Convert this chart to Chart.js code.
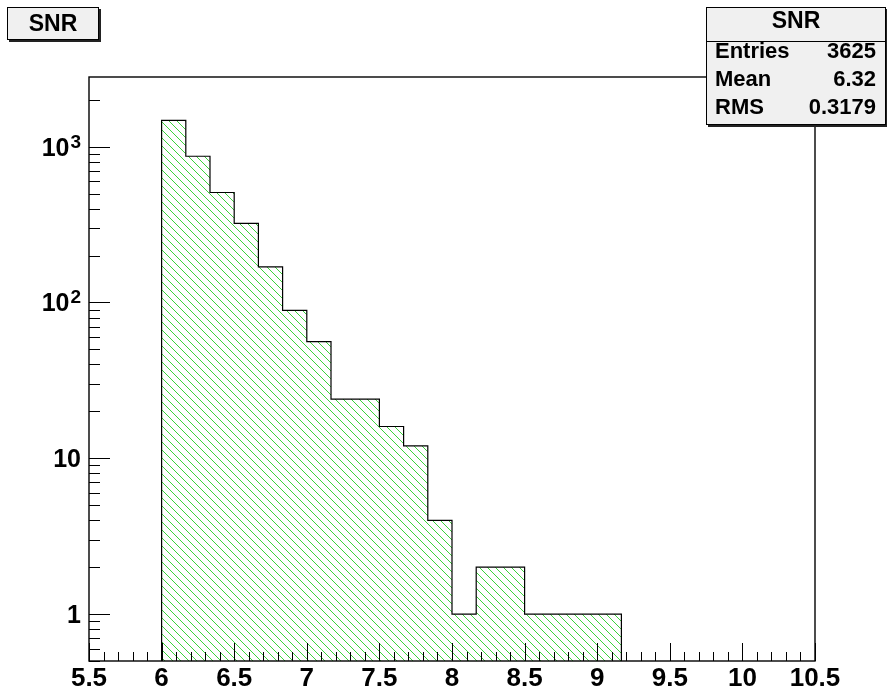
<!DOCTYPE html>
<html>
<head>
<meta charset="utf-8">
<script src="https://cdn.jsdelivr.net/npm/chart.js@4.4.1/dist/chart.umd.min.js"></script>
<style>
    body { margin: 0; background: #fff; }
    #wrap { position: relative; width: 887px; height: 697px; }
    .box {
        position: absolute;
        background: #f0f0f0;
        border: 1px solid #000;
        box-shadow: 2px 2px 0 #222;
        font-family: 'Liberation Sans', Arial, sans-serif;
        font-weight: bold;
        color: #000;
        box-sizing: border-box;
    }
    #title-box { left: 7px; top: 7px; width: 92px; height: 33px; font-size: 23px; line-height: 31px; text-align: center; }
    #stats-box { left: 706px; top: 7px; width: 180px; height: 118px; font-size: 22px; }
    #stats-box .head { position: absolute; left: 0; right: 0; top: 0; height: 33px; line-height: 25px; text-align: center; border-bottom: 1px solid #000; font-size: 23px; }
    #stats-box .row { position: absolute; left: 8px; right: 9px; height: 28px; line-height: 28px; display: flex; justify-content: space-between; }
</style>
</head>
<body>
<div id="wrap">
    <canvas id="hist" width="887" height="697"></canvas>
    <div class="box" id="title-box"></div>
    <div class="box" id="stats-box"></div>
</div>
<script>
// ─── Data ─────────────────────────────────────────────

const histName   = 'SNR';
const binEdges   = [6.0, 6.1667, 6.3333, 6.5, 6.6667, 6.8333, 7.0, 7.1667, 7.3333, 7.5,
                    7.6667, 7.8333, 8.0, 8.1667, 8.3333, 8.5, 8.6667, 8.8333, 9.0, 9.1667];
const binCounts  = [1476, 868, 508, 322, 169, 89, 56, 24, 24, 16, 12, 4, 1, 2, 2, 1, 1, 1, 1];

const xRange      = [5.5, 10.5];
const xTickValues = [5.5, 6, 6.5, 7, 7.5, 8, 8.5, 9, 9.5, 10, 10.5];
const xTickLabels = ['5.5', '6', '6.5', '7', '7.5', '8', '8.5', '9', '9.5', '10', '10.5'];

const yRange      = [0.5, 2800];
const yTickValues = [1, 10, 100, 1000];
const yTickBase   = ['1', '10', '10', '10'];
const yTickExp    = ['', '', '2', '3'];

const statLabels = ['Entries', 'Mean', 'RMS'];
const statValues = ['3625', '6.32', '0.3179'];

// ─── Boxes ────────────────────────────────────────────

document.getElementById('title-box').textContent = histName;
const stats = document.getElementById('stats-box');
stats.innerHTML = `<div class="head">${histName}</div>` +
    statLabels.map((l, i) =>
        `<div class="row" style="top:${29 + i * 28}px"><span>${l}</span><span>${statValues[i]}</span></div>`
    ).join('');

// ─── Helpers ──────────────────────────────────────────

const FONT = "'Liberation Sans', Arial, sans-serif";

// ROOT-like "\\\" hatch, one-pixel diagonal every 8 px
function _hatch() {
    const c = document.createElement('canvas');
    c.width = 8; c.height = 8;
    const g = c.getContext('2d');
    g.fillStyle = 'rgb(60,210,60)';
    for (let i = 0; i < 8; i++) g.fillRect(i, i, 1, 1);
    return g.createPattern(c, 'repeat');
}

const outline = [{ x: binEdges[0], y: yRange[0] }];
binCounts.forEach((c, i) => outline.push({ x: binEdges[i], y: c }));
outline.push({ x: binEdges[binEdges.length - 1], y: yRange[0] });

// inward ticks, frame and y labels with exponents, ROOT style
const frameTicks = {
    id: 'frameTicks',
    afterDatasetsDraw(chart) {
        const { ctx, chartArea: a, scales: { x, y } } = chart;
        ctx.save();
        ctx.strokeStyle = '#000';
        ctx.lineWidth = 1;
        ctx.beginPath();
        for (let v = xRange[0]; v <= xRange[1] + 1e-9; v += 0.1) {
            const px = Math.round(x.getPixelForValue(v)) + 0.5;
            const major = Math.abs(v * 2 - Math.round(v * 2)) < 1e-6;
            ctx.moveTo(px, a.bottom);
            ctx.lineTo(px, a.bottom - (major ? 18 : 9));
        }
        for (let d = 0.1; d <= 1000; d *= 10) {
            for (let k = 1; k <= 9; k++) {
                const v = k * d;
                if (v < yRange[0] || v > yRange[1]) continue;
                const py = Math.round(y.getPixelForValue(v)) + 0.5;
                ctx.moveTo(a.left, py);
                ctx.lineTo(a.left + (k === 1 ? 21 : 11), py);
            }
        }
        ctx.stroke();
        ctx.lineWidth = 1.4;
        ctx.strokeRect(a.left, a.top, a.right - a.left, a.bottom - a.top);

        ctx.fillStyle = '#000';
        ctx.textBaseline = 'alphabetic';
        ctx.textAlign = 'right';
        const right = a.left - 8;
        yTickValues.forEach((v, i) => {
            const py = y.getPixelForValue(v);
            let xr = right;
            if (yTickExp[i]) {
                ctx.font = `bold 19px ${FONT}`;
                ctx.fillText(yTickExp[i], xr, py + 1);
                xr -= ctx.measureText(yTickExp[i]).width + 1;
            }
            ctx.font = `bold 25px ${FONT}`;
            ctx.fillText(yTickBase[i], xr, py + 9);
        });
        ctx.restore();
    },
};

// ─── Chart ────────────────────────────────────────────

new Chart(document.getElementById('hist').getContext('2d'), {
    type: 'line',
    data: {
        datasets: [{
            data: outline,
            stepped: 'before',
            fill: 'start',
            backgroundColor: _hatch(),
            borderColor: '#000',
            borderWidth: 1.2,
            pointRadius: 0,
        }],
    },
    options: {
        responsive: false,
        animation: false,
        layout: { padding: { top: 77, right: 72, left: 0, bottom: 0 } },
        plugins: { legend: { display: false }, tooltip: { enabled: false } },
        scales: {
            x: {
                type: 'linear',
                min: xRange[0],
                max: xRange[1],
                grid: { display: false, drawTicks: false },
                border: { display: false },
                afterBuildTicks: s => { s.ticks = xTickValues.map(v => ({ value: v })); },
                afterFit: s => { s.height = 36; },
                ticks: {
                    color: '#000',
                    font: { family: FONT, size: 26, weight: 'bold' },
                    padding: 2,
                    maxRotation: 0,
                    autoSkip: false,
                    callback: v => xTickLabels[xTickValues.indexOf(v)] ?? '',
                },
            },
            y: {
                type: 'logarithmic',
                min: yRange[0],
                max: yRange[1],
                grid: { display: false, drawTicks: false },
                border: { display: false },
                afterBuildTicks: s => { s.ticks = yTickValues.map(v => ({ value: v })); },
                afterFit: s => { s.width = 89; },
                ticks: { display: false },
            },
        },
    },
    plugins: [frameTicks],
});
</script>
</body>
</html>
